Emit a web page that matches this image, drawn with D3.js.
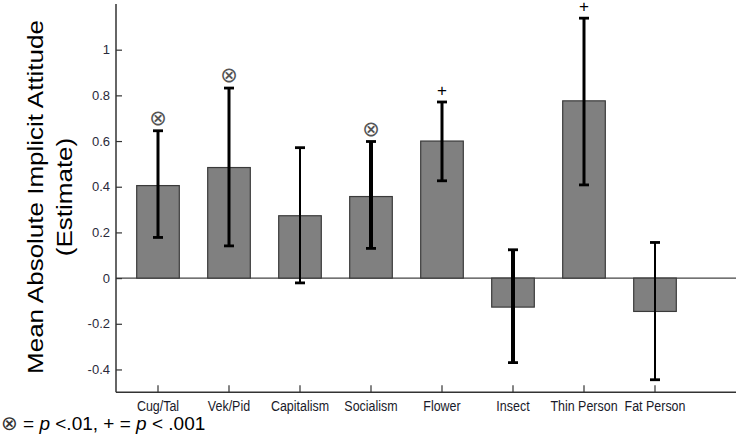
<!DOCTYPE html>
<html>
<head>
<meta charset="utf-8">
<script src="https://cdn.jsdelivr.net/npm/d3@7"></script>
<style>
  html, body { margin: 0; padding: 0; background: #fff; }
  svg { display: block; font-family: "Liberation Sans", Arial, sans-serif; }
</style>
</head>
<body>
<script>
// Mean absolute implicit attitude estimates with 95% intervals
const categories = ["Cug/Tal", "Vek/Pid", "Capitalism", "Socialism", "Flower", "Insect", "Thin Person", "Fat Person"];
const means   = [0.405, 0.484, 0.273, 0.357, 0.600, -0.127, 0.776, -0.146];
const upperCI = [0.645, 0.832, 0.571, 0.598, 0.771, 0.124, 1.138, 0.156];
const lowerCI = [0.178, 0.141, -0.021, 0.130, 0.426, -0.370, 0.408, -0.445];
const sigMarks = ["⊗", "⊗", "", "⊗", "+", "", "+", ""];
const yTicks = [-0.4, -0.2, 0, 0.2, 0.4, 0.6, 0.8, 1];

// Stroke widths of the interval whiskers (style only)
const whiskerWidths = [3, 3, 2, 4, 3, 4, 3, 2];

const W = 736, H = 443;
const plot = { left: 116, right: 736, top: 4, bottom: 392.3 };
const squeeze = 0.86;

const svg = d3.select("body").append("svg")
  .attr("width", W).attr("height", H);

svg.append("rect").attr("width", W).attr("height", H).attr("fill", "#fff");

const x = d3.scaleBand()
  .domain(categories)
  .range([122.5, 690.5])
  .paddingInner(0.4)
  .paddingOuter(0.2);

const y = d3.scaleLinear()
  .domain([-0.5, 1.2])
  .range([plot.bottom, plot.top]);

const axisColor = "#333";

// Zero reference line
svg.append("line")
  .attr("x1", plot.left).attr("x2", plot.right)
  .attr("y1", y(0)).attr("y2", y(0))
  .attr("stroke", "#444").attr("stroke-width", 1.3);

// Bars
svg.append("g").selectAll("rect")
  .data(categories)
  .join("rect")
  .attr("x", d => x(d))
  .attr("width", x.bandwidth())
  .attr("y", (d, i) => y(Math.max(0, means[i])))
  .attr("height", (d, i) => Math.abs(y(means[i]) - y(0)))
  .attr("fill", "#808080")
  .attr("stroke", "#3a3a3a")
  .attr("stroke-width", 1.2);

// Whiskers
const cx = d => x(d) + x.bandwidth() / 2;
const capHalf = 5;
const err = svg.append("g").selectAll("g")
  .data(categories)
  .join("g");

err.append("line")
  .attr("x1", cx).attr("x2", cx)
  .attr("y1", (d, i) => y(lowerCI[i]))
  .attr("y2", (d, i) => y(upperCI[i]))
  .attr("stroke", "#000")
  .attr("stroke-width", (d, i) => whiskerWidths[i]);

err.append("line")
  .attr("x1", d => cx(d) - capHalf).attr("x2", d => cx(d) + capHalf)
  .attr("y1", (d, i) => y(upperCI[i])).attr("y2", (d, i) => y(upperCI[i]))
  .attr("stroke", "#000").attr("stroke-width", 2.8);

err.append("line")
  .attr("x1", d => cx(d) - capHalf).attr("x2", d => cx(d) + capHalf)
  .attr("y1", (d, i) => y(lowerCI[i])).attr("y2", (d, i) => y(lowerCI[i]))
  .attr("stroke", "#000").attr("stroke-width", 2.8);

// Significance markers above the upper whiskers
const marked = categories
  .map((c, i) => ({ c, i, mark: sigMarks[i] }))
  .filter(d => d.mark !== "");

svg.append("g").selectAll("text")
  .data(marked)
  .join("text")
  .attr("x", d => cx(d.c))
  .attr("y", d => d.mark === "⊗" ? y(upperCI[d.i]) - 13 + 7 : y(upperCI[d.i]) - 12 + 6)
  .attr("text-anchor", "middle")
  .attr("font-family", d => d.mark === "⊗" ? "DejaVu Sans, sans-serif" : "Liberation Sans, Arial, sans-serif")
  .attr("font-size", d => d.mark === "⊗" ? 21 : 17)
  .attr("fill", d => d.mark === "⊗" ? "#555" : "#000")
  .text(d => d.mark);

// Y axis
const yAxis = d3.axisLeft(y)
  .tickValues(yTicks)
  .tickSizeInner(-6)
  .tickSizeOuter(0)
  .tickPadding(6)
  .tickFormat(d => String(+d.toFixed(1)));

const gy = svg.append("g")
  .attr("transform", `translate(${plot.left},0)`)
  .call(yAxis);
gy.select(".domain").remove();
gy.selectAll(".tick line").attr("stroke", axisColor).attr("stroke-width", 1.2);
gy.selectAll(".tick text")
  .attr("fill", "#2a2a3a")
  .attr("font-size", 13)
  .attr("font-family", "Liberation Sans, Arial, sans-serif");

svg.append("line")
  .attr("x1", plot.left).attr("x2", plot.left)
  .attr("y1", plot.top).attr("y2", plot.bottom)
  .attr("stroke", axisColor).attr("stroke-width", 1.5);

// X axis
const xAxis = d3.axisBottom(x)
  .tickSizeInner(-7)
  .tickSizeOuter(0)
  .tickPadding(8);

const gx = svg.append("g")
  .attr("transform", `translate(0,${plot.bottom})`)
  .call(xAxis);
gx.select(".domain").remove();
gx.selectAll(".tick line").attr("stroke", axisColor).attr("stroke-width", 1.2);
gx.selectAll(".tick text")
  .attr("fill", "#1a1a2a")
  .attr("font-size", 14.5)
  .attr("font-family", "Liberation Sans, Arial, sans-serif")
  .attr("transform", `scale(${squeeze},1)`);

svg.append("line")
  .attr("x1", plot.left).attr("x2", plot.right)
  .attr("y1", plot.bottom).attr("y2", plot.bottom)
  .attr("stroke", axisColor).attr("stroke-width", 1.5);

// Y axis title (two lines)
const title = svg.append("text")
  .attr("text-anchor", "middle")
  .attr("font-size", 26)
  .attr("fill", "#000")
  .attr("transform", `translate(0,197) scale(${squeeze},1) rotate(-90)`);
title.append("tspan").attr("x", 0).attr("y", 50).text("Mean Absolute Implicit Attitude");
title.append("tspan").attr("x", 0).attr("y", 84).text("(Estimate)");

// Significance note
const note = svg.append("text")
  .attr("x", 1).attr("y", 430)
  .attr("font-size", 19)
  .attr("fill", "#000");
note.append("tspan").attr("font-family", "DejaVu Sans, sans-serif").attr("font-size", 20).attr("fill", "#333").text("⊗");
note.append("tspan").text(" = ");
note.append("tspan").attr("font-style", "italic").text("p");
note.append("tspan").text(" <.01, + = ");
note.append("tspan").attr("font-style", "italic").text("p");
note.append("tspan").text(" < .001");
</script>
</body>
</html>
